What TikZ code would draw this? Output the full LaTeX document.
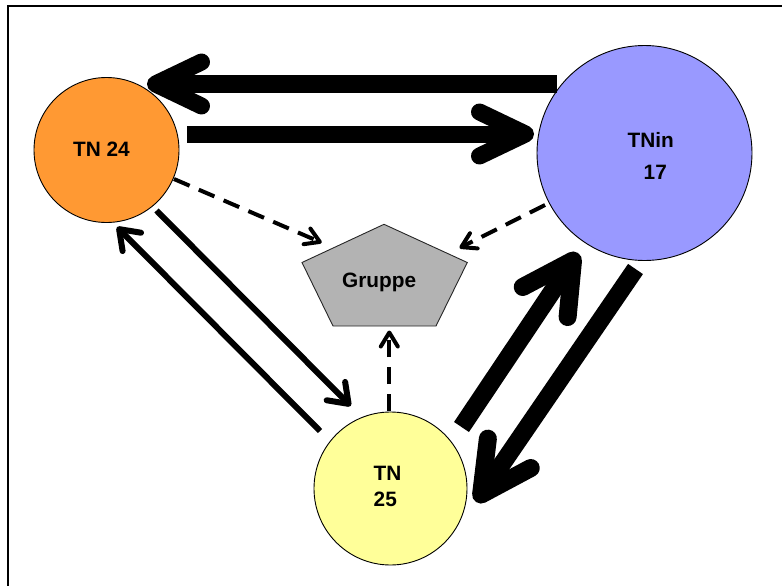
\documentclass[tikz,border=0pt]{standalone}
\usepackage{fontspec}
\setmainfont{Liberation Sans}
\usetikzlibrary{calc}
\definecolor{cOrange}{HTML}{FF9933}
\definecolor{cBlue}{HTML}{9999FF}
\definecolor{cYellow}{HTML}{FFFF99}
\definecolor{cGray}{HTML}{B3B3B3}
% #1 shaft style, #2 line width, #3 head length, #4 head width, #5 start, #6 tip
\newcommand\myarrow[6][]{%
  \coordinate (qs) at #5;
  \coordinate (qt) at #6;
  \coordinate (qv) at ($(qt)!0.5*#2!(qs)$);
  \coordinate (qb) at ($(qv)!#3!(qs)$);
  \draw[line width=#2, #1] (qs) -- (qv);
  \draw[line width=#2, line cap=round, line join=round]
    ($(qb)!0.5*#4!90:(qv)$) -- (qv) -- ($(qb)!0.5*#4!-90:(qv)$);
}
\begin{document}
\begin{tikzpicture}[x=1pt,y=-1pt,
  pnode/.style={circle, draw=black, line width=0.9pt, inner sep=0pt, outer sep=0pt},
  lbl/.style={inner sep=0pt, text=black, font=\fontsize{20.8}{26}\selectfont\bfseries},
  dashline/.style={dash pattern=on 17pt off 10pt},
]
\useasboundingbox (0,0) rectangle (782,586);
\draw[line width=2.5pt] (8,600) -- (8,6) -- (800,6);

% nodes
\node[pnode, fill=cOrange, minimum size=145pt] (TN24) at (106.5,150) {};
\node[pnode, fill=cBlue, minimum size=215pt] (TNin) at (644.5,153) {};
\node[pnode, fill=cYellow, minimum size=153pt] (TN25) at (390.5,488.5) {};
\coordinate (P) at (384.5,275);
\draw[fill=cGray, draw=black!85, line width=0.9pt]
  (384,224.3) -- (467.3,262.5) -- (436,326) -- (333,326) -- (302,262.5) -- cycle;

% labels
\node[lbl, anchor=base] (t24) at (101.5,156.7) {TN 24};
\node[lbl, align=left, anchor=west, font=\fontsize{20.8}{32}\selectfont\bfseries] (tin) at (627.5,156) {TNin\\\hspace*{16pt}17};
\node[lbl, align=left, anchor=west] (t25) at (373.5,486.5) {TN\\25};
\node[lbl, anchor=base] (Gruppe) at (379.2,287.3) {Gruppe};

% thick arrows
\myarrow{17pt}{46pt}{44pt}{($(TNin)+(-87.5,-69)$)}{($(TN24)+(40.5,-66)$)}
\myarrow{17pt}{46pt}{44pt}{($(TN24)+(80.5,-16)$)}{($(TNin)+(-110.5,-19)$)}
\myarrow{18pt}{50pt}{54pt}{($(TN25)+(71,-61.5)$)}{($(TNin)+(-66.5,100)$)}
\myarrow{18pt}{50pt}{52pt}{($(TNin)+(-9,116)$)}{($(TN25)+(85.5,13.5)$)}
% medium arrows
\myarrow{6pt}{18pt}{26pt}{($(TN24)+(50,60.5)$)}{($(TN25)+(-39.8,-82.5)$)}
\myarrow{6pt}{18pt}{26pt}{($(TN25)+(-70.5,-57.5)$)}{($(TN24)+(10.5,77)$)}
% dashed arrows
\myarrow[dashline]{4pt}{14pt}{17pt}{($(TN24)+(67.5,29)$)}{($(P)+(-62.8,-32.3)$)}
\myarrow[dashline]{4pt}{14pt}{17pt}{($(TNin)+(-99.5,52)$)}{($(P)+(75,-27)$)}
\myarrow[dashline]{4pt}{14pt}{17pt}{($(TN25)+(-1.2,-77.5)$)}{($(P)+(4.8,55.5)$)}
\end{tikzpicture}
\end{document}
